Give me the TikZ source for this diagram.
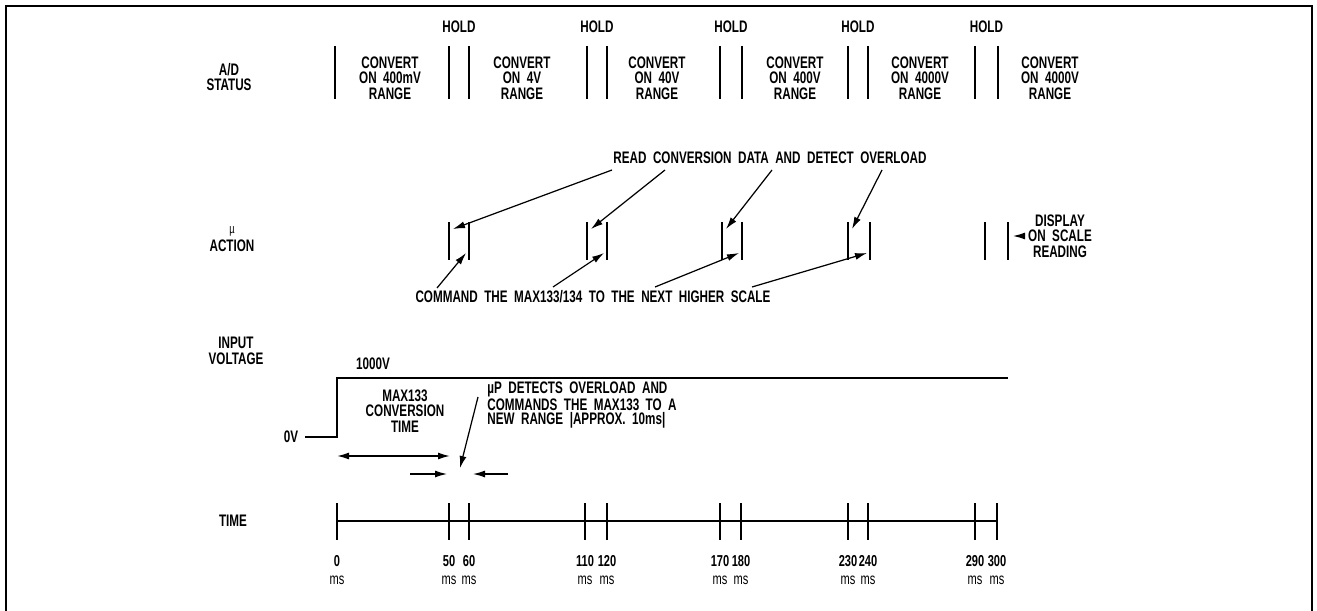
\documentclass[tikz,border=0pt]{standalone}
\usepackage{fontspec}
\setmainfont{Liberation Sans}[FakeStretch=0.70, WordSpace=2.0]
\usetikzlibrary{arrows.meta}

\begin{document}
\begin{tikzpicture}[
  x=0.02cm, y=-0.02cm,
  txt/.style={align=center, inner sep=0pt, font=\fontsize{9.5}{8.8}\selectfont\bfseries},
  note/.style={align=left, inner sep=0pt, font=\fontsize{9.5}{8.4}\selectfont\bfseries},
  ticklbl/.style={align=center, inner sep=0pt, font=\fontsize{9}{10}\selectfont},
  bar/.style={line width=1.1pt},
  sig/.style={line width=0.8pt},
  arr/.style={-{Latex[length=2.4mm,width=1.4mm]}, line width=0.7pt},
  dblarr/.style={{Latex[length=2.4mm,width=1.4mm]}-{Latex[length=2.4mm,width=1.4mm]}, line width=0.9pt}
]
  \useasboundingbox (0,0) rectangle (1317,611);
  \draw[line width=0.9pt] (6,611) -- (6,6) -- (1312,6) -- (1312,611);

  % A/D status
  \node[txt] (adlbl) at (229,77) {A/D\\STATUS};
  \draw[bar] (335,46) -- (335,99);
  \node[txt] (cv400m) at (390,78) {CONVERT\\ON 400mV\\RANGE};
  \node[txt] (cv4) at (522,78) {CONVERT\\ON 4V\\RANGE};
  \node[txt] (cv40) at (657,78) {CONVERT\\ON 40V\\RANGE};
  \node[txt] (cv400) at (795,78) {CONVERT\\ON 400V\\RANGE};
  \node[txt] (cv4000) at (920,78) {CONVERT\\ON 4000V\\RANGE};
  \node[txt] (cv4000b) at (1050,78) {CONVERT\\ON 4000V\\RANGE};
  \foreach \a/\b [count=\i] in {449/469,587/607,720/742,848/868,975/998}{
    \draw[bar] (\a,46) -- (\a,99);
    \draw[bar] (\b,46) -- (\b,99);
    \node[txt] (hold\i) at ({(\a+\b)/2},27) {HOLD};
  }

  % uP action
  \node[txt, font=\fontsize{7.5}{7.5}\selectfont] (mulbl) at (232,231) {µ};
  \node[txt] (actlbl) at (232,246) {ACTION};
  \foreach \a/\b [count=\i] in {449/469,587/607,722/742,848/870,985/1008}{
    \draw[bar] (\a,222) -- (\a,260);
    \draw[bar] (\b,222) -- (\b,260);
    \coordinate (rd\i) at ({\a+4},229);
    \coordinate (cm\i) at ({\b-3},253);
  }
  \node[txt] (read) at (770,158) {READ CONVERSION DATA AND DETECT OVERLOAD};
  \coordinate (rs1) at (612,170);
  \coordinate (rs2) at (665,170);
  \coordinate (rs3) at (772,170);
  \coordinate (rs4) at (882,170);
  \draw[arr] (rs1) -- (rd1);
  \draw[arr] (rs2) -- (rd2);
  \draw[arr] (rs3) -- (rd3);
  \draw[arr] (rs4) -- (rd4);

  \node[txt] (cmd) at (593,297) {COMMAND THE MAX133/134 TO THE NEXT HIGHER SCALE};
  \coordinate (cs1) at (437,288);
  \coordinate (cs2) at (553,287);
  \coordinate (cs3) at (655,287);
  \coordinate (cs4) at (752,287);
  \draw[arr] (cs1) -- (cm1);
  \draw[arr] (cs2) -- (cm2);
  \draw[arr] (cs3) -- (cm3);
  \draw[arr] (cs4) -- (cm4);

  \node[txt] (disp) at (1060,236) {DISPLAY\\ON SCALE\\READING};
  \coordinate (dp) at (1013,236);
  \draw[arr, shorten <=4pt] (disp.west) -- (dp);

  % input voltage
  \node[txt] (inlbl) at (236,351) {INPUT\\VOLTAGE};
  \node[txt] (zerov) at (291,437) {0V};
  \node[txt] (kv) at (373,364) {1000V};
  \coordinate (v0) at (305,437);
  \draw[sig] (v0) -| (337,378) -- (1008,378);

  \node[txt] (convt) at (405,411) {MAX133\\CONVERSION\\TIME};
  \coordinate (ct0) at (337,456);
  \coordinate (ct1) at (450,456);
  \draw[dblarr] (ct0) -- (ct1);
  \coordinate (gl) at (410,474);
  \coordinate (gr) at (508,474);
  \draw[arr] (gl) -- (447,474);
  \draw[arr] (gr) -- (473,474);

  \node[note, anchor=west] (ovl) at (487,405) {µP DETECTS OVERLOAD AND\\COMMANDS THE MAX133 TO A\\NEW RANGE |APPROX. 10ms|};
  \coordinate (os) at (478,397);
  \coordinate (oe) at (460,468);
  \draw[arr] (os) -- (oe);

  % time axis
  \node[txt] (timelbl) at (233,521) {TIME};
  \draw[line width=0.6pt] (337,521) -- (997,521);
  \foreach \x/\t in {337/0,449/50,469/60,585/110,607/120,720/170,741/180,848/230,868/240,975/290,997/300}{
    \draw[bar] (\x,503) -- (\x,540);
    \node[ticklbl] (tk\t) at (\x,570) {\textbf{\t}\\ms};
  }
\end{tikzpicture}
\end{document}
